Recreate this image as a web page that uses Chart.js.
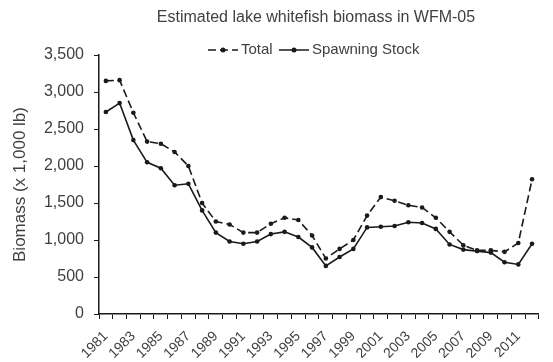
<!DOCTYPE html>
<html><head><meta charset="utf-8">
<script src="https://cdn.jsdelivr.net/npm/chart.js@4/dist/chart.umd.min.js"></script>
<style>html,body{margin:0;padding:0;background:#fff;}#wrap{width:553px;height:362px;}</style>
</head><body><div id="wrap"><canvas id="c" width="553" height="362"></canvas></div>
<script>
const years = [1981,1982,1983,1984,1985,1986,1987,1988,1989,1990,1991,1992,1993,1994,1995,1996,1997,1998,1999,2000,2001,2002,2003,2004,2005,2006,2007,2008,2009,2010,2011,2012];
const totalBiomass = [3150,3160,2720,2330,2300,2190,2000,1500,1250,1210,1100,1100,1220,1300,1270,1060,750,880,1000,1330,1580,1530,1470,1440,1300,1110,930,860,860,840,960,1820];
const spawningStock = [2730,2850,2350,2050,1970,1740,1760,1400,1100,980,950,980,1080,1110,1040,900,650,770,880,1170,1180,1190,1240,1230,1150,940,870,850,830,700,670,950];
const yTicks = [0,500,1000,1500,2000,2500,3000,3500];
const titleText = 'Estimated lake whitefish biomass in WFM-05';
const seriesNames = ['Total','Spawning Stock'];
const yTitle = 'Biomass (x 1,000 lb)';

const TXT = '#404040';
const LINE = '#1a1a1a';
const FONT = '"Liberation Sans", Arial, sans-serif';

const overlay = {
  id: 'overlay',
  afterDraw(chart) {
    const ctx = chart.ctx;
    ctx.save();
    ctx.fillStyle = TXT;
    ctx.font = '16px ' + FONT;
    ctx.textAlign = 'center';
    ctx.textBaseline = 'middle';
    ctx.fillText(titleText, 316, 18);
    // legend
    const y = 50;
    ctx.font = '15px ' + FONT;
    ctx.textAlign = 'left';
    ctx.strokeStyle = LINE;
    ctx.lineWidth = 1.5;
    ctx.setLineDash([8,4]);
    ctx.beginPath(); ctx.moveTo(208, y); ctx.lineTo(238, y); ctx.stroke();
    ctx.setLineDash([]);
    ctx.fillStyle = LINE;
    ctx.beginPath(); ctx.arc(223, y, 2.5, 0, Math.PI*2); ctx.fill();
    ctx.fillStyle = TXT;
    ctx.fillText(seriesNames[0], 241, y);
    ctx.beginPath(); ctx.moveTo(279, y); ctx.lineTo(309, y); ctx.stroke();
    ctx.fillStyle = LINE;
    ctx.beginPath(); ctx.arc(294, y, 2.5, 0, Math.PI*2); ctx.fill();
    ctx.fillStyle = TXT;
    ctx.fillText(seriesNames[1], 312, y);
    ctx.restore();
  }
};

new Chart(document.getElementById('c'), {
  type: 'line',
  data: {
    labels: years.map(String),
    datasets: [
      { label: seriesNames[0], data: totalBiomass, borderColor: LINE, backgroundColor: LINE, borderWidth: 1.6, borderDash: [8,4], pointRadius: 2.3, pointBackgroundColor: LINE, pointBorderWidth: 0, tension: 0 },
      { label: seriesNames[1], data: spawningStock, borderColor: LINE, backgroundColor: LINE, borderWidth: 1.6, pointRadius: 2.3, pointBackgroundColor: LINE, pointBorderWidth: 0, tension: 0 }
    ]
  },
  options: {
    responsive: false,
    animation: false,
    locale: 'en-US',
    layout: { padding: { top: 55, left: 0, right: 0, bottom: 0 } },
    plugins: { legend: { display: false }, title: { display: false }, tooltip: { enabled: false } },
    scales: {
      x: {
        type: 'category',
        offset: true,
        grid: { offset: true, drawOnChartArea: false, color: LINE, tickLength: 5, tickWidth: 1 },
        border: { color: LINE, width: 1.5 },
        ticks: {
          autoSkip: false, maxRotation: 45, minRotation: 45, color: TXT, padding: 9,
          font: { family: FONT, size: 14 },
          callback: function(v, i) { return i % 2 === 0 ? this.getLabelForValue(v) : ''; }
        },
        afterFit(s) { s.height = 48; }
      },
      y: {
        min: 0, max: 3500,
        afterBuildTicks(s) { s.ticks = yTicks.map(v => ({ value: v })); },
        grid: { drawOnChartArea: false, color: LINE, tickLength: 5, tickWidth: 1 },
        border: { color: LINE, width: 1.5 },
        ticks: { color: TXT, padding: 10, font: { family: FONT, size: 16 } },
        title: { display: true, text: yTitle, color: TXT, font: { family: FONT, size: 17 }, padding: { top: 10, bottom: 4 } },
        afterFit(s) { s.width = 99; }
      }
    }
  },
  plugins: [overlay]
});
</script></body></html>
